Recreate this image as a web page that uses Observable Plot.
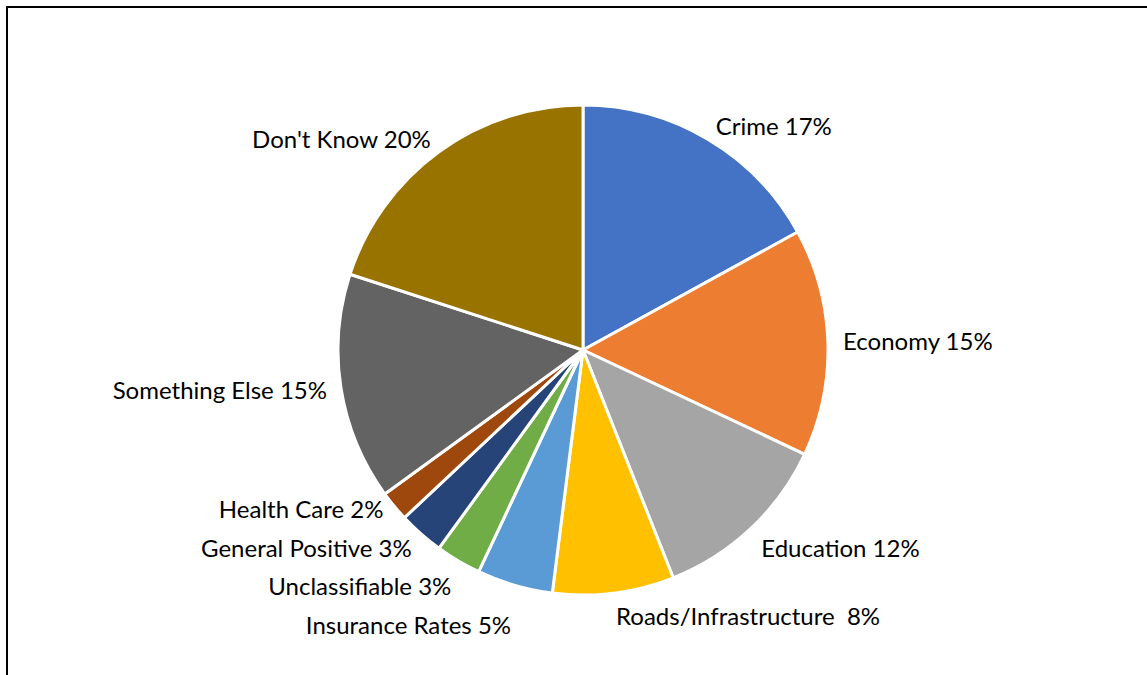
<!DOCTYPE html>
<html>
<head>
<meta charset="utf-8">
<script src="https://cdn.jsdelivr.net/npm/d3@7"></script>
<script src="https://cdn.jsdelivr.net/npm/@observablehq/plot@0.6"></script>
<style>
  html, body { margin: 0; padding: 0; background: #fff; overflow: hidden; }
  #wrap { position: relative; width: 1147px; height: 675px; overflow: hidden; }
  #frame { position: absolute; left: 6px; top: 6px; width: 1200px; height: 800px; border: 2.5px solid #000; box-sizing: border-box; }
  #chart { position: absolute; left: 0; top: 0; }
</style>
</head>
<body>
<div id="wrap"><div id="frame"></div><div id="chart"></div></div>
<script>
const categories = ["Crime", "Economy", "Education", "Roads/Infrastructure ", "Insurance Rates", "Unclassifiable", "General Positive", "Health Care", "Something Else", "Don't Know"];
const values = [17, 15, 12, 8, 5, 3, 3, 2, 15, 20];
const colors = ["#4472C4", "#ED7D31", "#A5A5A5", "#FFC000", "#5B9BD5", "#70AD47", "#264478", "#9E480E", "#636363", "#997300"];

const arcs = d3.pie().sort(null).value(d => d.value)(
  categories.map((c, i) => ({category: c, value: values[i], color: colors[i]}))
);

const labelR = 1.06;
const minGap = 0.158; // minimum vertical spacing between stacked labels (in radius units)
const labels = arcs.map(a => {
  const m = (a.startAngle + a.endAngle) / 2;
  const s = Math.sin(m), c = Math.cos(m);
  return {
    text: `${a.data.category} ${a.data.value}%`,
    x: labelR * s,
    y: labelR * c,
    anchor: s >= 0 ? "start" : "end",
    line: c > 0.9 ? "bottom" : c < -0.5 ? "top" : "middle"
  };
});

// simple collision relaxation for labels that share a side and alignment
for (const anchor of ["start", "end"]) {
  const grp = labels.filter(d => d.anchor === anchor && d.line === "top").sort((a, b) => b.y - a.y);
  for (let it = 0; it < 200; it++) {
    let moved = false;
    for (let i = 1; i < grp.length; i++) {
      const gap = grp[i - 1].y - grp[i].y;
      if (gap < minGap) {
        const d = (minGap - gap) / 2;
        grp[i - 1].y += d; grp[i].y -= d; moved = true;
      }
    }
    if (!moved) break;
  }
}

const pieMark = (index, scales) => {
  const cx = scales.x(0), cy = scales.y(0);
  const r = scales.x(1) - scales.x(0);
  const arc = d3.arc().innerRadius(0).outerRadius(r);
  const g = d3.create("svg:g").attr("transform", `translate(${cx},${cy})`);
  g.selectAll("path").data(arcs).join("path")
    .attr("d", arc)
    .attr("fill", d => d.data.color)
    .attr("stroke", "#fff")
    .attr("stroke-width", 3)
    .attr("stroke-linejoin", "round");
  return g.node();
};

const textMarks = [];
for (const anchor of ["start", "end"]) {
  for (const line of ["top", "middle", "bottom"]) {
    const sub = labels.filter(d => d.anchor === anchor && d.line === line);
    if (sub.length) textMarks.push(Plot.text(sub, {
      x: "x", y: "y", text: "text", textAnchor: anchor, lineAnchor: line,
      fontSize: 24, fill: "#000"
    }));
  }
}

const plot = Plot.plot({
  width: 1147,
  height: 675,
  margin: 0,
  style: {fontFamily: "Lato, 'Open Sans', sans-serif", background: "transparent"},
  x: {domain: [-1, 1], range: [338, 828], axis: null},
  y: {domain: [-1, 1], range: [595, 105], axis: null},
  marks: [pieMark, ...textMarks]
});
document.getElementById("chart").appendChild(plot);
</script>
</body>
</html>
